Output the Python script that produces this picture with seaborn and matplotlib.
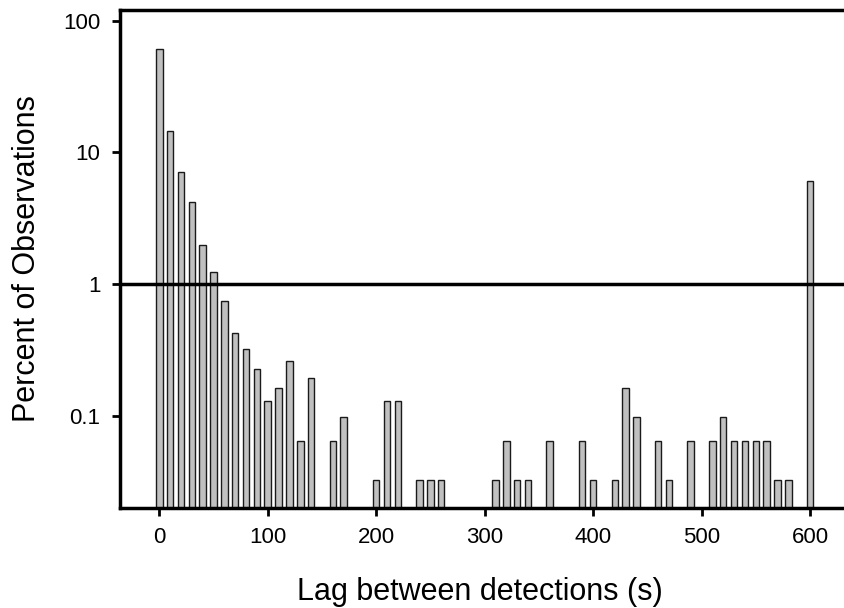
import matplotlib
matplotlib.use("Agg")
import matplotlib.pyplot as plt
import seaborn as sns
import pandas as pd
from matplotlib.ticker import FixedLocator, FixedFormatter, NullLocator

lags = [0, 10, 20, 30, 40, 50, 60, 70, 80, 90, 100, 110, 120, 130, 140,
        160, 170, 200, 210, 220, 240, 250, 260, 310, 320, 330, 340, 360,
        390, 400, 420, 430, 440, 460, 470, 490, 510, 520, 530, 540, 550,
        560, 570, 580, 600]
percent = [61, 14.4, 7.06, 4.2, 1.98, 1.23, 0.744, 0.423, 0.323, 0.225,
           0.129, 0.162, 0.259, 0.0644, 0.194,
           0.0644, 0.0975, 0.0322, 0.129, 0.129, 0.0322, 0.0322, 0.0322,
           0.0322, 0.0644, 0.0322, 0.0322, 0.0644,
           0.0644, 0.0322, 0.0322, 0.162, 0.0975, 0.0644, 0.0322, 0.0644,
           0.0644, 0.0975, 0.0644, 0.0644, 0.0644,
           0.0644, 0.0322, 0.0322, 6.1]
x_ticks = [0, 100, 200, 300, 400, 500, 600]
y_ticks = [0.1, 1, 10, 100]
y_tick_labels = ["0.1", "1", "10", "100"]

sns.set_style("white")
plt.rcParams["font.family"] = ["Liberation Sans", "DejaVu Sans"]
plt.rcParams["text.color"] = "black"
plt.rcParams["axes.labelcolor"] = "black"
plt.rcParams["xtick.color"] = "black"
plt.rcParams["ytick.color"] = "black"

df = pd.DataFrame({"lag": lags, "pct": percent})

fig = plt.figure(figsize=(8.44, 6.08), dpi=100)
W, H = 844, 608
left, right, top, bottom = 120, 850, 10, 507.7
ax = fig.add_axes([left / W, (H - bottom) / H, (right - left) / W, (bottom - top) / H])

sns.barplot(data=df, x="lag", y="pct", native_scale=True, width=0.6,
            color="#c0c0c0", saturation=1, edgecolor="#1a1a1a", linewidth=1.0,
            ax=ax)
ax.set_yscale("log")
ax.set_ylim(0.02, 120.5)
ax.set_xlim(-36.2, 636.9)

ax.axhline(1, color="black", lw=2.5, zorder=5)

ax.xaxis.set_major_locator(FixedLocator(x_ticks))
ax.yaxis.set_major_locator(FixedLocator(y_ticks))
ax.yaxis.set_major_formatter(FixedFormatter(y_tick_labels))
ax.yaxis.set_minor_locator(NullLocator())

for side in ["left", "bottom", "top"]:
    ax.spines[side].set_visible(True)
    ax.spines[side].set_linewidth(2.5)
    ax.spines[side].set_color("black")
ax.spines["right"].set_visible(False)

ax.tick_params(axis="both", which="major", direction="out", length=6, width=2,
               color="black", labelcolor="black", labelsize=16, pad=8,
               bottom=True, left=True)

ax.set_xlabel("Lag between detections (s)", fontsize=22, color="black")
ax.set_ylabel("Percent of Observations", fontsize=22, color="black")
ax.xaxis.set_label_coords((480 - left) / (right - left), -(576.7 - bottom) / (bottom - top))
ax.xaxis.label.set_va("top")
ax.yaxis.set_label_coords(-(left - 42) / (right - left), 0.5)

fig.savefig("out.png", dpi=100)
